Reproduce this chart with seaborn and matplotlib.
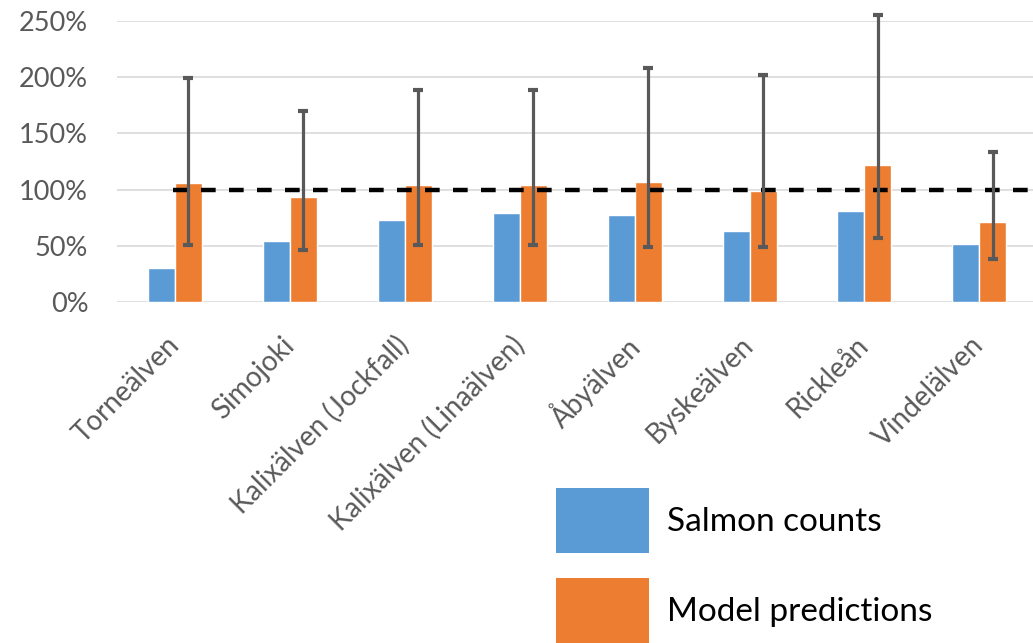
import numpy as np
import pandas as pd
import matplotlib
matplotlib.use("Agg")
import matplotlib.pyplot as plt
from matplotlib.patches import Patch
import seaborn as sns

categories = ["Torneälven", "Simojoki", "Kalixälven (Jockfall)", "Kalixälven (Linaälven)",
              "Åbyälven", "Byskeälven", "Rickleån", "Vindelälven"]
salmon_counts = [30, 54, 73, 79, 77, 63, 81, 52]
model_pred = [106, 93, 104, 104, 107, 99, 122, 71]
err_low = [51, 46, 51, 51, 49, 49, 57, 38]
err_high = [199, 170, 188, 188, 208, 202, 255, 133]
series = ["Salmon counts", "Model predictions"]
colors = ["#5B9BD5", "#ED7D31"]

sns.set_style("white")
plt.rcParams["font.family"] = ["Lato", "DejaVu Sans"]

df = pd.DataFrame({
    "river": categories * 2,
    "value": salmon_counts + model_pred,
    "series": [series[0]] * len(categories) + [series[1]] * len(categories),
})

fig = plt.figure(figsize=(10.33, 6.43), dpi=100)
ax = fig.add_axes([0.1137, 0.530, 0.890, 0.438])

sns.barplot(data=df, x="river", y="value", hue="series", palette=colors,
            width=0.47, errorbar=None, saturation=1, legend=False, ax=ax)

# error bars on the model bars
x = np.arange(len(categories)) + 0.47 / 4
pred = np.array(model_pred)
yerr = [pred - np.array(err_low), np.array(err_high) - pred]
ax.errorbar(x, pred, yerr=yerr, fmt="none", ecolor="#595959", elinewidth=2.3,
            capsize=3.8, capthick=3, clip_on=False, zorder=5)

ax.plot([-0.02, 8], [100, 100], color="black", lw=3.2, ls=(0, (3.3, 3.0)),
        zorder=4, clip_on=True)

ax.set_xlim(-0.5, 7.5)
ax.set_ylim(0, 250)
ax.set_yticks(range(0, 251, 50))
ax.set_yticklabels([f"{v}%" for v in range(0, 251, 50)], fontsize=19.5, color="#595959")
ax.set_xticks(range(len(categories)))
ax.set_xticklabels(categories, rotation=45, ha="right", va="center",
                   rotation_mode="anchor", fontsize=20, color="#595959")
ax.tick_params(axis="y", length=0, pad=21)
ax.tick_params(axis="x", length=0, pad=28)
ax.set_xlabel("")
ax.set_ylabel("")
ax.yaxis.grid(True, color="#d9d9d9", lw=1.2)
ax.set_axisbelow(True)
for s in ax.spines.values():
    s.set_visible(False)

handles = [Patch(facecolor=c, edgecolor="none") for c in colors]
fig.legend(handles, series, loc="upper left", bbox_to_anchor=(0.538, 0.241),
           frameon=False, fontsize=24, labelcolor="black", handlelength=2.79,
           handleheight=2.62, labelspacing=0.75, handletextpad=0.55,
           borderpad=0, borderaxespad=0)

fig.savefig("out.png", dpi=100)
